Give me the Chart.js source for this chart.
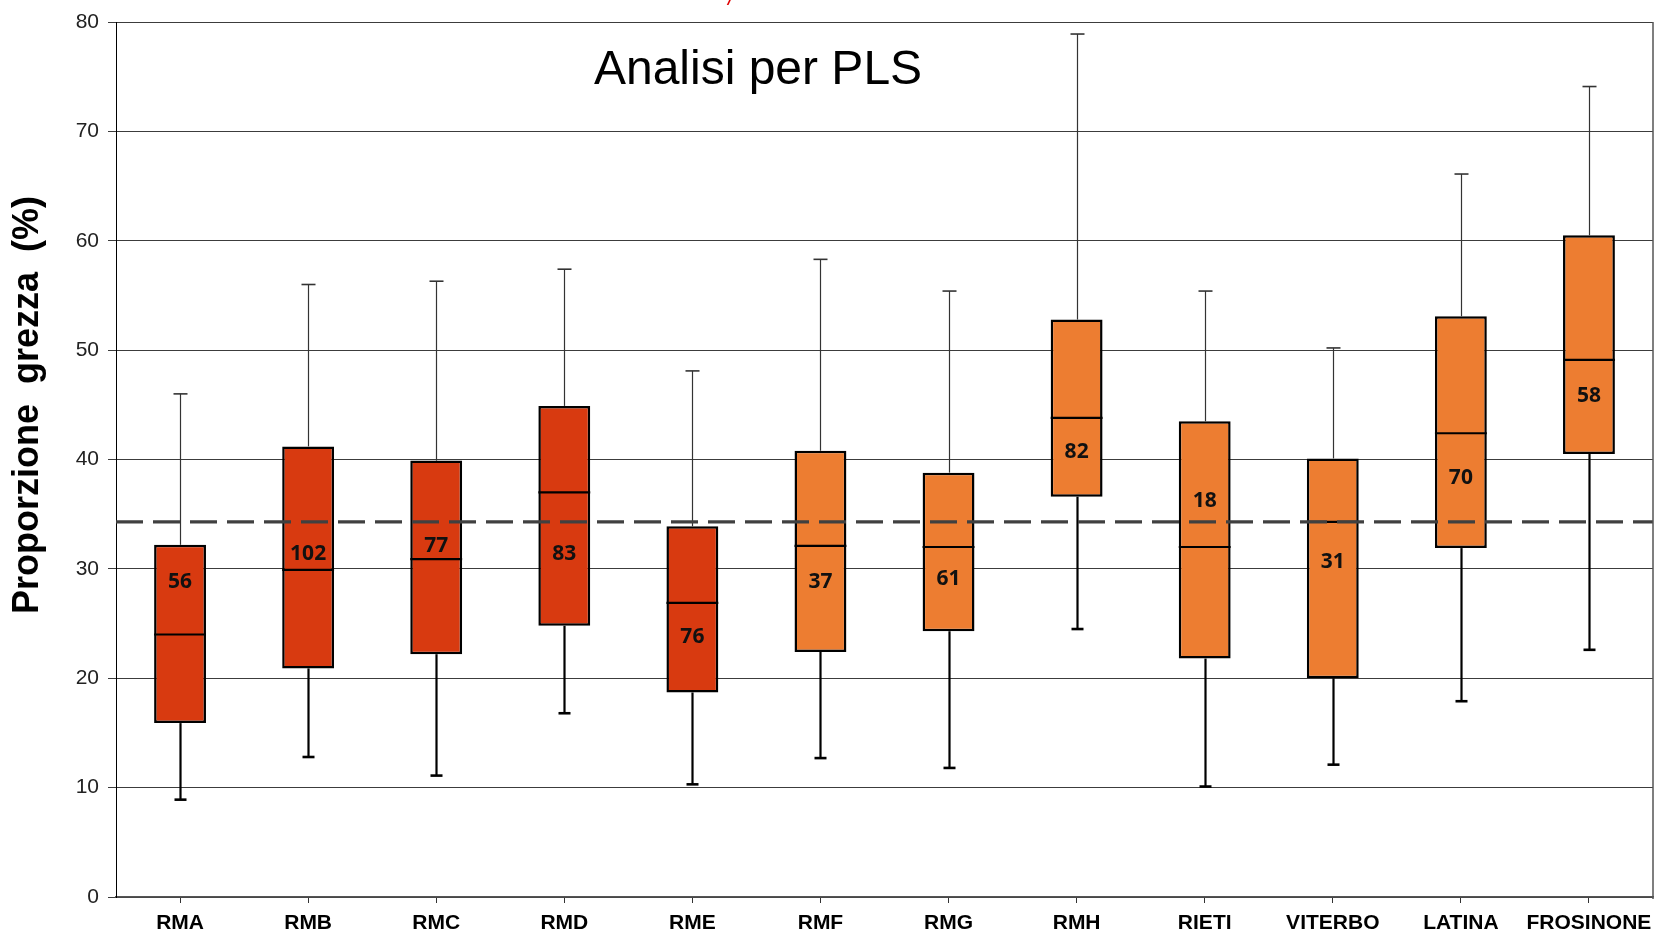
<!DOCTYPE html>
<html lang="it">
<head>
<meta charset="utf-8">
<title>Analisi per PLS</title>
<script src="https://cdn.jsdelivr.net/npm/chart.js@4.4.1/dist/chart.umd.min.js"></script>
<style>
    html, body { margin: 0; padding: 0; background: #fff; }
    #wrap { position: relative; width: 1656px; height: 931px; }
</style>
</head>
<body>
<div id="wrap"><canvas id="plsChart"></canvas></div>
<script>
// ASL / province
var labels = ['RMA', 'RMB', 'RMC', 'RMD', 'RME', 'RMF', 'RMG', 'RMH', 'RIETI', 'VITERBO', 'LATINA', 'FROSINONE'];

// box plot values (%)
var whiskerLow  = [8.9, 12.8, 11.1, 16.8, 10.3, 12.7, 11.8, 24.5, 10.1, 12.1, 17.9, 22.6];
var q1          = [15.9, 20.9, 22.2, 24.8, 18.7, 22.4, 24.3, 36.6, 21.8, 20.0, 31.9, 40.5];
var median      = [24.0, 29.9, 30.9, 37.0, 26.9, 32.1, 32.0, 43.8, 32.0, 34.3, 42.4, 49.1];
var q3          = [32.2, 41.2, 39.9, 44.9, 33.9, 40.8, 38.8, 52.8, 43.5, 40.1, 53.1, 60.5];
var whiskerHigh = [46.0, 56.0, 56.3, 57.4, 48.1, 58.3, 55.4, 78.9, 55.4, 50.2, 66.1, 74.1];

// number of PLS per box, and the value where the number is written
var counts  = ['56', '102', '77', '83', '76', '37', '61', '82', '18', '31', '70', '58'];
var countAt = [28.8, 31.4, 32.1, 31.4, 23.8, 28.8, 29.1, 40.7, 36.2, 30.6, 38.3, 45.8];

// regional value (dashed line)
var regionValue = 34.3;

var RED = '#D83A10';
var ORANGE = '#ED7D31';
var boxColors = labels.map(function (l, i) { return i < 5 ? RED : ORANGE; });

var SANS = '"Liberation Sans", Arial, sans-serif';

var boxExtras = {
    id: 'boxExtras',
    beforeDatasetsDraw: function (chart) {
        var ctx = chart.ctx;
        var y = chart.scales.y;
        var bars = chart.getDatasetMeta(0).data;
        ctx.save();
        bars.forEach(function (bar, i) {
            var x = Math.round(bar.x) + 0.5;
            // upper whisker
            ctx.strokeStyle = '#333';
            ctx.lineWidth = 1.2;
            ctx.beginPath();
            ctx.moveTo(x, y.getPixelForValue(q3[i]));
            ctx.lineTo(x, y.getPixelForValue(whiskerHigh[i]));
            ctx.stroke();
            ctx.lineWidth = 1.6;
            ctx.beginPath();
            ctx.moveTo(x - 7, y.getPixelForValue(whiskerHigh[i]));
            ctx.lineTo(x + 7, y.getPixelForValue(whiskerHigh[i]));
            ctx.stroke();
            // lower whisker
            ctx.strokeStyle = '#000';
            ctx.lineWidth = 2.2;
            ctx.beginPath();
            ctx.moveTo(x, y.getPixelForValue(q1[i]));
            ctx.lineTo(x, y.getPixelForValue(whiskerLow[i]));
            ctx.stroke();
            ctx.lineWidth = 2.6;
            ctx.beginPath();
            ctx.moveTo(x - 6, y.getPixelForValue(whiskerLow[i]));
            ctx.lineTo(x + 6, y.getPixelForValue(whiskerLow[i]));
            ctx.stroke();
        });
        ctx.restore();
    },
    afterDatasetsDraw: function (chart) {
        var ctx = chart.ctx;
        var y = chart.scales.y;
        var area = chart.chartArea;
        var bars = chart.getDatasetMeta(0).data;
        ctx.save();
        // medians
        ctx.strokeStyle = '#000';
        ctx.lineWidth = 2.2;
        bars.forEach(function (bar, i) {
            var ym = y.getPixelForValue(median[i]);
            ctx.beginPath();
            ctx.moveTo(bar.x - bar.width / 2, ym);
            ctx.lineTo(bar.x + bar.width / 2, ym);
            ctx.stroke();
        });
        // regional value
        var yr = y.getPixelForValue(regionValue);
        ctx.strokeStyle = '#404040';
        ctx.lineWidth = 3.2;
        ctx.setLineDash([27, 10]);
        ctx.beginPath();
        ctx.moveTo(area.left, yr);
        ctx.lineTo(area.right, yr);
        ctx.stroke();
        ctx.setLineDash([]);
        // counts
        ctx.fillStyle = '#111';
        ctx.font = 'bold 21px "Noto Sans", sans-serif';
        ctx.textAlign = 'center';
        ctx.textBaseline = 'middle';
        bars.forEach(function (bar, i) {
            ctx.fillText(counts[i], bar.x, y.getPixelForValue(countAt[i]));
        });
        ctx.restore();
    },
    afterDraw: function (chart) {
        var ctx = chart.ctx;
        var area = chart.chartArea;
        ctx.save();
        // right frame line
        ctx.strokeStyle = '#555';
        ctx.lineWidth = 1.5;
        ctx.beginPath();
        ctx.moveTo(area.right, area.top);
        ctx.lineTo(area.right, area.bottom + 2);
        ctx.stroke();
        // title inside the plot
        ctx.fillStyle = '#000';
        ctx.font = '48px ' + SANS;
        ctx.textAlign = 'center';
        ctx.textBaseline = 'alphabetic';
        ctx.fillText('Analisi per PLS', 758, 84);
        // y axis title
        ctx.translate(28, 405);
        ctx.rotate(-Math.PI / 2);
        ctx.font = 'bold 36px ' + SANS;
        ctx.textBaseline = 'middle';
        ctx.fillText('Proporzione  grezza  (%)', 0, 0);
        ctx.restore();
        // cut-off red text at the top edge
        ctx.save();
        ctx.fillStyle = '#E00000';
        ctx.font = 'italic 22px ' + SANS;
        ctx.textAlign = 'center';
        ctx.textBaseline = 'alphabetic';
        ctx.fillText('/', 731, 5);
        ctx.restore();
    }
};

document.addEventListener('DOMContentLoaded', function () {
    var ctx = document.getElementById('plsChart').getContext('2d');

    var plsChart = new Chart(ctx, {
        type: 'bar',
        data: {
            labels: labels,
            datasets: [{
                label: 'Q1 - Q3',
                data: q1.map(function (v, i) { return [v, q3[i]]; }),
                backgroundColor: boxColors,
                borderColor: '#000',
                borderWidth: 2.5,
                borderSkipped: false,
                categoryPercentage: 1,
                barPercentage: 0.405
            }]
        },
        options: {
            responsive: true,
            maintainAspectRatio: false,
            animation: false,
            events: [],
            layout: { padding: { top: 22, right: 3, bottom: 0, left: 0 } },
            plugins: {
                legend: { display: false },
                tooltip: { enabled: false }
            },
            scales: {
                x: {
                    grid: { display: true, drawOnChartArea: false, offset: false, tickLength: 6, color: '#333' },
                    border: { color: '#555', width: 1.5 },
                    ticks: {
                        color: '#000',
                        font: { family: SANS, size: 21, weight: 'bold' },
                        padding: 8,
                        maxRotation: 0,
                        autoSkip: false
                    },
                    afterFit: function (scale) {
                        scale.height = 34;
                        scale.paddingLeft = 0;
                        scale.paddingRight = 0;
                    }
                },
                y: {
                    min: 0,
                    max: 80,
                    ticks: {
                        stepSize: 10,
                        color: '#222',
                        font: { family: SANS, size: 21 },
                        padding: 9
                    },
                    grid: { color: '#3c3c3c', lineWidth: 1, tickLength: 8 },
                    border: { color: '#000', width: 1 },
                    afterFit: function (scale) { scale.width = 116; }
                }
            }
        },
        plugins: [boxExtras]
    });
});
</script>
</body>
</html>
